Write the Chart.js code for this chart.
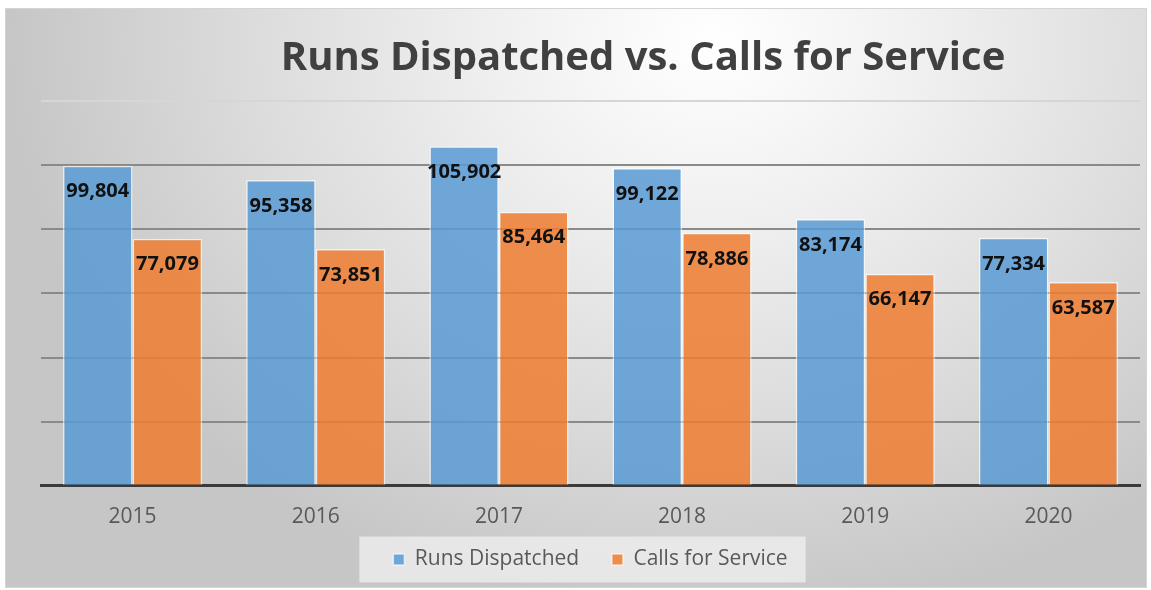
<!DOCTYPE html>
<html>
<head>
<meta charset="utf-8">
<script src="https://cdn.jsdelivr.net/npm/chart.js@4.4.1/dist/chart.umd.min.js"></script>
<style>
  body { margin: 0; background: #ffffff; }
  #wrap {
    position: absolute; left: 5px; top: 8px; width: 1142px; height: 580px;
    border: 1px solid #d4d4d4; box-sizing: border-box;
    background: radial-gradient(ellipse 62% 100% at 62% 6%, #ffffff 0%, #f0f0f0 30%, #dcdcdc 65%, #c6c6c6 100%);
  }
</style>
</head>
<body>
<div id="wrap"><canvas id="runsChart" width="1140" height="578"></canvas></div>
<script>
// data
const years = ['2015', '2016', '2017', '2018', '2019', '2020'];
const runsDispatched = [99804, 95358, 105902, 99122, 83174, 77334];
const callsForService = [77079, 73851, 85464, 78886, 66147, 63587];
const chartTitle = 'Runs Dispatched vs. Calls for Service';

// title drawn by hand, it sits right of the center in the original
const titlePlugin = {
  id: 'titlePlugin',
  afterDraw(chart) {
    const c = chart.ctx;
    c.save();
    c.font = 'bold 40px "Open Sans"';
    c.fillStyle = '#404040';
    c.textAlign = 'center';
    c.textBaseline = 'alphabetic';
    c.fillText(chartTitle, 637, 61);
    c.restore();
  }
};

// light box behind the legend
const legendBox = {
  id: 'legendBox',
  beforeDraw(chart) {
    const boxes = chart.legend.legendHitBoxes;
    if (!boxes || !boxes.length) return;
    const first = boxes[0];
    const last = boxes[boxes.length - 1];
    const mid = first.top + first.height / 2;
    const c = chart.ctx;
    c.save();
    c.fillStyle = 'rgba(240, 240, 240, 0.75)';
    c.fillRect(first.left - 34, mid - 23, (last.left + last.width) - first.left + 52, 46);
    c.restore();
  }
};

// value labels inside the top of each bar
const barLabels = {
  id: 'barLabels',
  afterDatasetsDraw(chart) {
    const c = chart.ctx;
    c.save();
    c.font = 'bold 20px "Open Sans"';
    c.fillStyle = '#111111';
    c.textAlign = 'center';
    c.textBaseline = 'middle';
    chart.data.datasets.forEach((ds, i) => {
      chart.getDatasetMeta(i).data.forEach((bar, j) => {
        c.fillText(ds.data[j].toLocaleString('en-US'), bar.x, bar.y + 26);
      });
    });
    c.restore();
  }
};

const ctx_runs = document.getElementById('runsChart');

new Chart(ctx_runs, {
  type: 'bar',
  data: {
    labels: years,
    datasets: [{
      label: 'Runs Dispatched',
      data: runsDispatched,
      backgroundColor: 'rgba(91, 155, 213, 0.86)',
      borderColor: 'rgba(255, 255, 255, 0.6)',
      borderWidth: 1.5,
      categoryPercentage: 0.76,
      barPercentage: 1
    },
    {
      label: 'Calls for Service',
      data: callsForService,
      backgroundColor: 'rgba(237, 125, 49, 0.86)',
      borderColor: 'rgba(255, 255, 255, 0.6)',
      borderWidth: 1.5,
      categoryPercentage: 0.76,
      barPercentage: 1
    }
  ]
  },
  plugins: [legendBox, barLabels, titlePlugin],
  options: {
    responsive: false,
    animation: false,
    layout: {
      padding: { top: 92, left: 35, right: 6, bottom: 7 }
    },
    scales: {
      y: {
        min: 0,
        max: 120000,
        ticks: { display: false, stepSize: 20000 },
        border: { display: false },
        grid: {
          drawTicks: false,
          lineWidth: 2,
          color: (c) => c.tick.value === 120000 ? '#d6d6d6' : (c.tick.value === 0 ? 'rgba(0,0,0,0)' : '#8a8a8a')
        }
      },
      x: {
        grid: { display: false, drawTicks: false },
        border: { display: true, color: '#3a3a3a', width: 3 },
        ticks: {
          color: '#595959',
          padding: 19,
          font: { family: '"Open Sans"', size: 21 }
        }
      }
    },
    plugins: {
      tooltip: { enabled: false },
      legend: {
        display: true,
        position: 'bottom',
        labels: {
          color: '#595959',
          boxWidth: 11,
          boxHeight: 11,
          padding: 0,
          font: { family: '"Open Sans"', size: 21 },
          // wider gap between the two entries
          generateLabels: (chart) => Chart.defaults.plugins.legend.labels.generateLabels(chart).map((l, i) => {
            if (i === 0) l.text = l.text + '      ';
            return l;
          })
        }
      }
    }
  }
});
</script>
</body>
</html>
